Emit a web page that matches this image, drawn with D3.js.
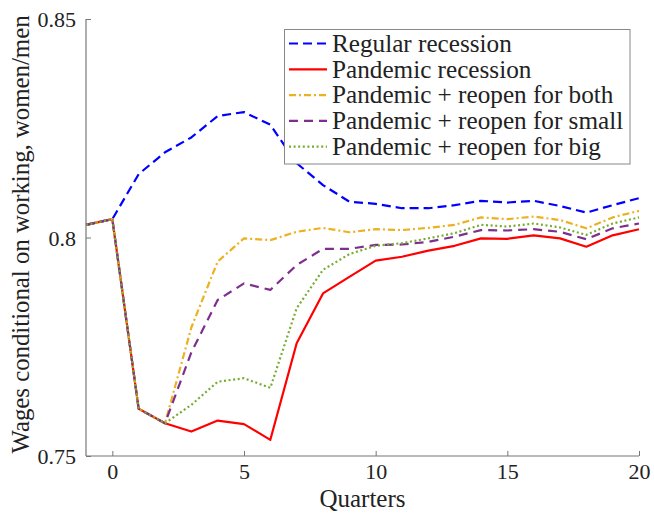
<!DOCTYPE html>
<html><head><meta charset="utf-8">
<script src="https://cdn.jsdelivr.net/npm/d3@7"></script>
<style>body{margin:0;background:#fff}svg{display:block}</style>
</head><body><svg id="c" width="654" height="514"></svg>
<script>
const quarters = [-1,0,1,2,3,4,5,6,7,8,9,10,11,12,13,14,15,16,17,18,19,20];
const regular  = [0.8029,0.8042,0.8145,0.8195,0.8229,0.8278,0.8287,0.8258,0.8170,0.8120,0.8082,0.8077,0.8067,0.8067,0.8074,0.8084,0.8080,0.8084,0.8072,0.8057,0.8074,0.8090];
const pandemic = [0.8029,0.8042,0.7608,0.7575,0.7556,0.7581,0.7573,0.7537,0.7758,0.7872,0.7910,0.7947,0.7956,0.7970,0.7981,0.7998,0.7997,0.8005,0.7998,0.7979,0.8005,0.8019];
const reopenBoth  = [0.8029,0.8042,0.7608,0.7575,0.7794,0.7945,0.7998,0.7994,0.8013,0.8022,0.8012,0.8019,0.8017,0.8022,0.8029,0.8046,0.8042,0.8048,0.8040,0.8021,0.8046,0.8061];
const reopenSmall = [0.8029,0.8042,0.7608,0.7575,0.7737,0.7857,0.7895,0.7880,0.7937,0.7974,0.7974,0.7983,0.7984,0.7990,0.8002,0.8017,0.8016,0.8019,0.8013,0.7996,0.8021,0.8032];
const reopenBig   = [0.8029,0.8042,0.7608,0.7575,0.7617,0.7670,0.7678,0.7656,0.7838,0.7926,0.7962,0.7981,0.7987,0.7998,0.8010,0.8029,0.8025,0.8032,0.8023,0.8006,0.8032,0.8046];
const seriesNames = ["Regular recession","Pandemic recession","Pandemic + reopen for both","Pandemic + reopen for small","Pandemic + reopen for big"];
const xTicks = [0,5,10,15,20];
const yTicks = [0.75,0.8,0.85];
const yTickLabels = ["0.75","0.8","0.85"];
const xLabel = "Quarters";
const yLabel = "Wages conditional on working, women/men";

const FONT = "'Liberation Serif', 'Times New Roman', Times, 'DejaVu Serif', 'Noto Serif', serif";
const styles = [
  {color:"#0000FF", dash:"9,5"},
  {color:"#FF0000", dash:null},
  {color:"#EDB120", dash:"7,3,2,3"},
  {color:"#7E2F8E", dash:"9,6"},
  {color:"#77AC30", dash:"2,2.6"}
];
const data = [regular,pandemic,reopenBoth,reopenSmall,reopenBig];

const svg = d3.select("#c");
const L=86,R=639,T=19,B=456;
const x = d3.scaleLinear().domain([-1,20]).range([L,R]);
const y = d3.scaleLinear().domain([0.75,0.85]).range([B,T]);

const line = d3.line().x((d,i)=>x(quarters[i])).y(d=>y(d));
data.forEach((s,k)=>{
  svg.append("path").datum(s).attr("d",line).attr("fill","none")
    .attr("stroke",styles[k].color).attr("stroke-width",2.2)
    .attr("stroke-dasharray",styles[k].dash).attr("stroke-linejoin","round");
});

const ax = svg.append("g").attr("transform",`translate(0,${B})`)
  .call(d3.axisBottom(x).tickValues(xTicks).tickSize(-5).tickPadding(7).tickFormat(d3.format("d")));
const ay = svg.append("g").attr("transform",`translate(${L},0)`)
  .call(d3.axisLeft(y).tickValues(yTicks).tickSize(-5).tickPadding(10).tickFormat((d,i)=>yTickLabels[i]));
[ax,ay].forEach(g=>{
  g.attr("font-family",FONT);
  g.select(".domain").attr("stroke","#777").attr("stroke-width",1.2);
  g.selectAll(".tick line").attr("stroke","#777");
  g.selectAll(".tick text").attr("font-size",22).style("font-family",FONT).attr("fill","#222");
});
ax.select(".domain").attr("d",`M${L},0H${R}`);
ay.select(".domain").attr("d",`M0,${B}V${T}`);
ay.selectAll(".tick text").attr("dy","0.35em");

svg.append("text").attr("x",(L+R)/2).attr("y",507).attr("text-anchor","middle")
  .style("font-family",FONT).attr("fill","#222").attr("font-size",25).text(xLabel);
svg.append("text").attr("transform",`translate(29,${(T+B)/2 - 3}) rotate(-90)`).attr("text-anchor","middle")
  .style("font-family",FONT).attr("fill","#222").attr("font-size",24.8).text(yLabel);

const lg = svg.append("g");
lg.append("rect").attr("x",284.5).attr("y",29.5).attr("width",345.5).attr("height",134.5)
  .attr("fill","#fff").attr("stroke","#888").attr("stroke-width",1);
seriesNames.forEach((n,i)=>{
  const cy = 43.5 + i*25.8;
  lg.append("line").attr("x1",289).attr("x2",327).attr("y1",cy).attr("y2",cy)
    .attr("stroke",styles[i].color).attr("stroke-width",2.2).attr("stroke-dasharray",styles[i].dash);
  lg.append("text").attr("x",332).attr("y",cy).attr("dy","0.33em").style("font-family",FONT)
    .attr("fill","#222").attr("font-size",25.2).text(n);
});
</script></body></html>
